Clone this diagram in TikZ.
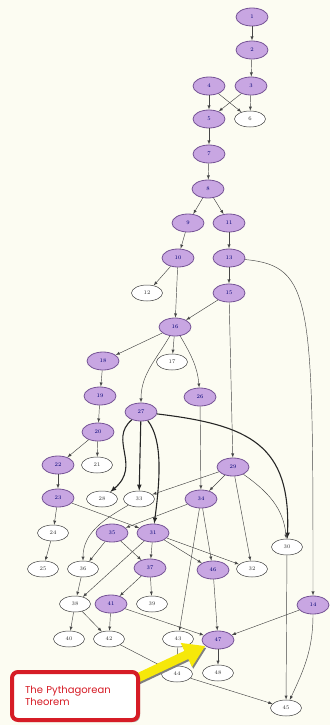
\documentclass[tikz,border=0pt]{standalone}
\usepackage{fontspec}
\newfontfamily\calloutfont{Poppins}
\usetikzlibrary{arrows,arrows.meta,shapes,shadows}

\definecolor{propfill}{RGB}{200,166,226}
\definecolor{propdraw}{RGB}{118,84,150}
\definecolor{edgegray}{RGB}{70,70,70}
\definecolor{paper}{RGB}{252,252,242}
\definecolor{calloutred}{RGB}{214,28,38}
\definecolor{pyyellow}{RGB}{246,232,10}

\begin{document}
\begin{tikzpicture}[
        x=1pt, y=1pt,
        prop/.style={ellipse, draw=propdraw, fill=propfill, line width=0.8pt, minimum width=32pt, minimum height=18pt, inner sep=0pt, text=blue!45!black, font=\fontsize{5.5}{5.5}\selectfont},
        other/.style={ellipse, draw=black!75, fill=white, line width=0.5pt, minimum width=31pt, minimum height=16pt, inner sep=0pt, text=black!80, font=\fontsize{5.5}{5.5}\selectfont},
        arrow/.style={-latex, draw=edgegray, line width=0.45pt},
        heavy/.style={-latex, draw=black!85, line width=1.1pt},
        pyarrow/.style={line width=9pt, draw=pyyellow, -{Triangle[width=25pt,length=21pt]}},
        callout/.style={rectangle, rounded corners=6pt, draw=calloutred, line width=4pt, fill=white, minimum width=126pt, minimum height=48pt, text width=100pt, align=left, text=calloutred, font=\calloutfont\fontsize{10}{12.5}\selectfont, drop shadow={shadow xshift=2pt, shadow yshift=-2pt, fill=black!55}}
    ]
        \useasboundingbox (0,0) rectangle (330,-725);
        \fill[paper] (0,0) rectangle (330,-725);

        % Propositions on the way to I.47
        \node[prop] (p1) at (252,-17) {1};
        \node[prop] (p2) at (252,-50) {2};
        \node[prop] (p3) at (251,-86) {3};
        \node[prop] (p4) at (209,-86) {4};
        \node[prop] (p5) at (209,-119) {5};
        \node[prop] (p7) at (209,-154) {7};
        \node[prop] (p8) at (208,-189) {8};
        \node[prop] (p9) at (188,-223) {9};
        \node[prop] (p11) at (229,-223) {11};
        \node[prop] (p10) at (178,-258) {10};
        \node[prop] (p13) at (229,-258) {13};
        \node[prop] (p15) at (229,-293) {15};
        \node[prop] (p16) at (175,-327) {16};
        \node[prop] (p18) at (103,-361) {18};
        \node[prop] (p19) at (100,-396) {19};
        \node[prop] (p26) at (200,-397) {26};
        \node[prop] (p27) at (141,-412) {27};
        \node[prop] (p20) at (98,-432) {20};
        \node[prop] (p22) at (58,-465) {22};
        \node[prop] (p29) at (233,-467) {29};
        \node[prop] (p23) at (58,-498) {23};
        \node[prop] (p34) at (201,-499) {34};
        \node[prop] (p35) at (112,-533) {35};
        \node[prop] (p31) at (153,-533) {31};
        \node[prop] (p37) at (150,-568) {37};
        \node[prop] (p46) at (213,-570) {46};
        \node[prop] (p41) at (111,-604) {41};
        \node[prop] (p14) at (313,-605) {14};
        \node[prop] (p47) at (218,-640) {47};

        % Other propositions
        \node[other] (p6) at (250,-119) {6};
        \node[other] (p12) at (147,-293) {12};
        \node[other] (p17) at (172,-362) {17};
        \node[other] (p21) at (97,-465) {21};
        \node[other] (p28) at (102,-499) {28};
        \node[other] (p33) at (139,-499) {33};
        \node[other] (p24) at (53,-533) {24};
        \node[other] (p30) at (287,-547) {30};
        \node[other] (p25) at (43,-569) {25};
        \node[other] (p36) at (83,-569) {36};
        \node[other] (p32) at (252,-569) {32};
        \node[other] (p38) at (75,-604) {38};
        \node[other] (p39) at (152,-604) {39};
        \node[other] (p40) at (69,-639) {40};
        \node[other] (p42) at (109,-639) {42};
        \node[other] (p43) at (178,-639) {43};
        \node[other] (p44) at (177,-674) {44};
        \node[other] (p48) at (218,-673) {48};
        \node[other] (p45) at (286,-708) {45};

        % Top of the graph
        \draw[arrow] (p1) -- (p2);
        \draw[arrow] (p2) -- (p3);
        \draw[arrow] (p3) -- (p5);
        \draw[arrow] (p3) -- (p6);
        \draw[arrow] (p4) -- (p5);
        \draw[arrow] (p4) -- (p6);
        \draw[arrow] (p5) -- (p7);
        \draw[arrow] (p7) -- (p8);
        \draw[arrow] (p8) -- (p9);
        \draw[arrow] (p8) -- (p11);
        \draw[arrow] (p9) -- (p10);
        \draw[arrow] (p11) -- (p13);
        \draw[arrow] (p10) -- (p12);
        \draw[arrow] (p10) -- (p16);
        \draw[arrow] (p13) -- (p15);
        \draw[arrow] (p13) .. controls (313,-266) and (313,-300) .. (p14);
        \draw[arrow] (p15) -- (p16);
        \draw[arrow] (p15) -- (p29);

        % Middle
        \draw[arrow] (p16) -- (p17);
        \draw[arrow] (p16) -- (p18);
        \draw[arrow] (p16) to[out=-120,in=90] (p27);
        \draw[arrow] (p16) to[out=-60,in=95] (p26);
        \draw[arrow] (p18) -- (p19);
        \draw[arrow] (p19) -- (p20);
        \draw[arrow] (p20) -- (p21);
        \draw[arrow] (p20) -- (p22);
        \draw[arrow] (p22) -- (p23);
        \draw[arrow] (p23) -- (p24);
        \draw[arrow] (p24) -- (p25);
        \draw[arrow] (p23) -- (p31);
        \draw[heavy] (p27) .. controls (108,-440) and (142,-465) .. (p28);
        \draw[heavy] (p27) -- (p33);
        \draw[heavy] (p27) .. controls (163,-440) and (160,-480) .. (p31);
        \draw[heavy] (p27) .. controls (250,-425) and (291,-445) .. (p30);
        \draw[arrow] (p26) -- (p34);
        \draw[arrow] (p29) -- (p33);
        \draw[arrow] (p29) -- (p34);
        \draw[arrow] (p29) -- (p32);
        \draw[arrow] (p29) to[out=-35,in=95] (p30);

        % Lower part
        \draw[arrow] (p34) -- (p35);
        \draw[arrow] (p34) -- (p43);
        \draw[arrow] (p34) -- (p46);
        \draw[arrow] (p33) to[out=-150,in=90] (p36);
        \draw[arrow] (p35) -- (p36);
        \draw[arrow] (p35) -- (p37);
        \draw[arrow] (p31) -- (p37);
        \draw[arrow] (p31) -- (p38);
        \draw[arrow] (p31) -- (p46);
        \draw[arrow] (p31) -- (p32);
        \draw[arrow] (p36) -- (p38);
        \draw[arrow] (p37) -- (p39);
        \draw[arrow] (p37) -- (p41);
        \draw[arrow] (p38) -- (p40);
        \draw[arrow] (p38) -- (p42);
        \draw[arrow] (p41) -- (p42);
        \draw[arrow] (p41) -- (p47);
        \draw[arrow] (p46) -- (p47);
        \draw[arrow] (p14) -- (p47);
        \draw[arrow] (p14) to[out=-90,in=65] (p45);
        \draw[arrow] (p30) -- (p45);
        \draw[arrow] (p42) -- (p44);
        \draw[arrow] (p43) -- (p44);
        \draw[arrow] (p44) -- (p45);
        \draw[arrow] (p47) -- (p48);

        % Callout
        \coordinate (tail) at (112,-690);
        \draw[pyarrow, draw=black!50, transform canvas={shift={(1.2pt,-1.8pt)}}] (tail) -- (p47);
        \draw[pyarrow] (tail) -- (p47);
        \node[callout] (note) at (75,-696) {The Pythagorean\\Theorem};
    \end{tikzpicture}
\end{document}
